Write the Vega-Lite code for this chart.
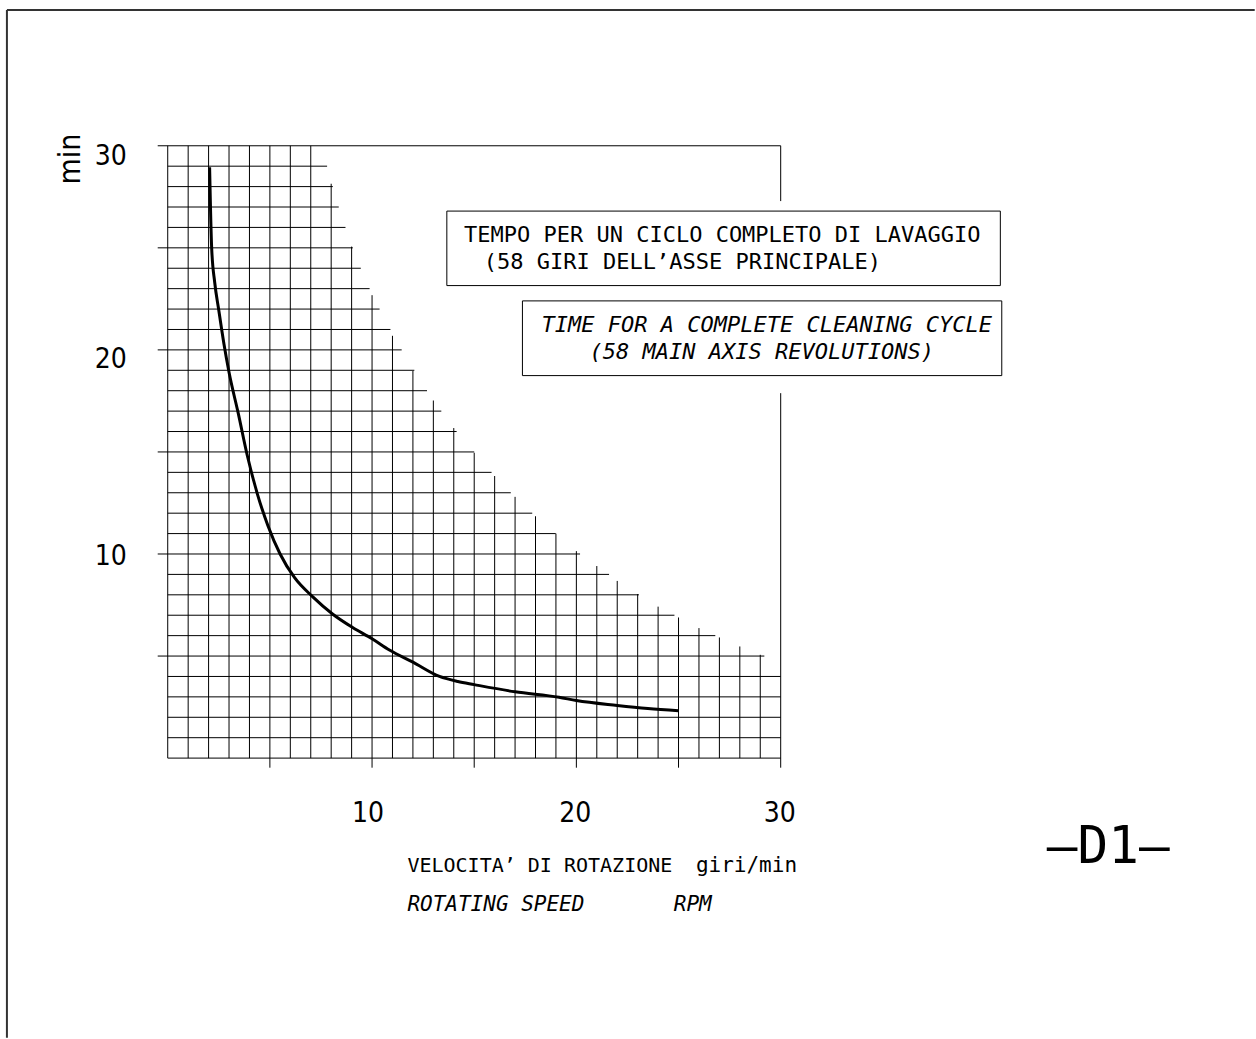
{
  "$schema": "https://vega.github.io/schema/vega-lite/v6.json",
  "width": 1256,
  "height": 1039,
  "padding": 0,
  "autosize": {"type": "fit", "contains": "padding"},
  "background": "white",
  "config": {"view": {"stroke": null}},
  "layer": [
    {
      "data": {"values": [
        {"x": -7.87, "x2": -7.87, "y": -13.7, "y2": 36.65},
        {"x": -7.87, "x2": 53.2, "y": 36.65, "y2": 36.65}
      ]},
      "mark": {"type": "rule", "color": "#333333", "strokeWidth": 2},
      "encoding": {
        "x": {"field": "x", "type": "quantitative", "scale": {"domain": [-8.209, 53.165], "nice": false, "zero": false}, "axis": null},
        "x2": {"field": "x2"},
        "y": {"field": "y", "type": "quantitative", "scale": {"domain": [-13.615, 37.142], "nice": false, "zero": false}, "axis": null},
        "y2": {"field": "y2"}
      }
    },
    {
      "data": {"values": [
        {"v": 0, "lo": 0, "hi": 30}, {"v": 1, "lo": 0, "hi": 30}, {"v": 2, "lo": 0, "hi": 30}, {"v": 3, "lo": 0, "hi": 30},
        {"v": 4, "lo": 0, "hi": 30}, {"v": 5, "lo": -0.47, "hi": 30}, {"v": 6, "lo": 0, "hi": 30}, {"v": 7, "lo": 0, "hi": 30},
        {"v": 8, "lo": 0, "hi": 28.14}, {"v": 9, "lo": 0, "hi": 25.06}, {"v": 10, "lo": -0.47, "hi": 22.68},
        {"v": 11, "lo": 0, "hi": 20.69}, {"v": 12, "lo": 0, "hi": 18.97}, {"v": 13, "lo": 0, "hi": 17.52},
        {"v": 14, "lo": 0, "hi": 16.17}, {"v": 15, "lo": -0.47, "hi": 14.96}, {"v": 16, "lo": 0, "hi": 13.82},
        {"v": 17, "lo": 0, "hi": 12.8}, {"v": 18, "lo": 0, "hi": 11.85}, {"v": 19, "lo": 0, "hi": 11.0},
        {"v": 20, "lo": -0.47, "hi": 10.14}, {"v": 21, "lo": 0, "hi": 9.41}, {"v": 22, "lo": 0, "hi": 8.68},
        {"v": 23, "lo": 0, "hi": 8.04}, {"v": 24, "lo": 0, "hi": 7.42}, {"v": 25, "lo": -0.47, "hi": 6.89},
        {"v": 26, "lo": 0, "hi": 6.37}, {"v": 27, "lo": 0, "hi": 5.91}, {"v": 28, "lo": 0, "hi": 5.47},
        {"v": 29, "lo": 0, "hi": 5.06}, {"v": 30, "lo": -0.47, "hi": 17.88}, {"v": 30, "lo": 27.29, "hi": 30}
      ]},
      "mark": {"type": "rule", "color": "#000000", "strokeWidth": 1},
      "encoding": {
        "x": {"field": "v", "type": "quantitative", "scale": {"domain": [-8.209, 53.165], "nice": false, "zero": false}, "axis": null},
        "y": {"field": "lo", "type": "quantitative", "scale": {"domain": [-13.615, 37.142], "nice": false, "zero": false}, "axis": null},
        "y2": {"field": "hi"}
      }
    },
    {
      "data": {"values": [
        {"h": 0, "lo": 0, "hi": 30}, {"h": 1, "lo": 0, "hi": 30}, {"h": 2, "lo": 0, "hi": 30}, {"h": 3, "lo": 0, "hi": 30},
        {"h": 4, "lo": 0, "hi": 30}, {"h": 5, "lo": -0.49, "hi": 29.2}, {"h": 6, "lo": 0, "hi": 26.8}, {"h": 7, "lo": 0, "hi": 24.8},
        {"h": 8, "lo": 0, "hi": 23.06}, {"h": 9, "lo": 0, "hi": 21.6}, {"h": 10, "lo": -0.49, "hi": 20.18},
        {"h": 11, "lo": 0, "hi": 18.99}, {"h": 12, "lo": 0, "hi": 17.84}, {"h": 13, "lo": 0, "hi": 16.79},
        {"h": 14, "lo": 0, "hi": 15.85}, {"h": 15, "lo": -0.49, "hi": 15.0}, {"h": 16, "lo": 0, "hi": 14.14},
        {"h": 17, "lo": 0, "hi": 13.39}, {"h": 18, "lo": 0, "hi": 12.69}, {"h": 19, "lo": 0, "hi": 12.07},
        {"h": 20, "lo": -0.49, "hi": 11.45}, {"h": 21, "lo": 0, "hi": 10.9}, {"h": 22, "lo": 0, "hi": 10.37},
        {"h": 23, "lo": 0, "hi": 9.88}, {"h": 24, "lo": 0, "hi": 9.45}, {"h": 25, "lo": -0.49, "hi": 9.06},
        {"h": 26, "lo": 0, "hi": 8.7}, {"h": 27, "lo": 0, "hi": 8.37}, {"h": 28, "lo": 0, "hi": 8.08},
        {"h": 29, "lo": 0, "hi": 7.8}, {"h": 30, "lo": -0.49, "hi": 30}
      ]},
      "mark": {"type": "rule", "color": "#000000", "strokeWidth": 1},
      "encoding": {
        "y": {"field": "h", "type": "quantitative", "scale": {"domain": [-13.615, 37.142], "nice": false, "zero": false}, "axis": null},
        "x": {"field": "lo", "type": "quantitative", "scale": {"domain": [-8.209, 53.165], "nice": false, "zero": false}, "axis": null},
        "x2": {"field": "hi"}
      }
    },
    {
      "data": {"values": [
        {"x0": 13.66, "x1": 40.75, "y0": 23.15, "y1": 26.8},
        {"x0": 17.36, "x1": 40.82, "y0": 18.74, "y1": 22.4}
      ]},
      "mark": {"type": "rect", "fill": null, "fillOpacity": 0, "stroke": "#000000", "strokeWidth": 1},
      "encoding": {
        "x": {"field": "x0", "type": "quantitative", "scale": {"domain": [-8.209, 53.165], "nice": false, "zero": false}, "axis": null},
        "x2": {"field": "x1"},
        "y": {"field": "y0", "type": "quantitative", "scale": {"domain": [-13.615, 37.142], "nice": false, "zero": false}, "axis": null},
        "y2": {"field": "y1"}
      }
    },
    {
      "data": {"values": [
        {"rpm": 2.05, "t": 28.95}, {"rpm": 2.15, "t": 25.0}, {"rpm": 2.3, "t": 23.3}, {"rpm": 2.49, "t": 22.0},
        {"rpm": 2.75, "t": 20.3}, {"rpm": 3.0, "t": 18.9}, {"rpm": 3.45, "t": 16.9}, {"rpm": 3.9, "t": 14.8},
        {"rpm": 4.4, "t": 12.9}, {"rpm": 4.9, "t": 11.4}, {"rpm": 5.5, "t": 10.0}, {"rpm": 6.2, "t": 8.85},
        {"rpm": 7.1, "t": 7.9}, {"rpm": 8.08, "t": 7.05}, {"rpm": 9.05, "t": 6.4}, {"rpm": 10.0, "t": 5.85},
        {"rpm": 10.85, "t": 5.3}, {"rpm": 12.0, "t": 4.7}, {"rpm": 13.3, "t": 4.0}, {"rpm": 14.2, "t": 3.75},
        {"rpm": 15.0, "t": 3.6}, {"rpm": 17.0, "t": 3.25}, {"rpm": 19.15, "t": 2.98}, {"rpm": 20.0, "t": 2.82},
        {"rpm": 22.0, "t": 2.58}, {"rpm": 23.5, "t": 2.43}, {"rpm": 25.0, "t": 2.32}
      ]},
      "mark": {"type": "line", "color": "#000000", "strokeWidth": 3, "interpolate": "monotone"},
      "encoding": {
        "x": {"field": "rpm", "type": "quantitative", "scale": {"domain": [-8.209, 53.165], "nice": false, "zero": false}, "axis": null},
        "y": {"field": "t", "type": "quantitative", "scale": {"domain": [-13.615, 37.142], "nice": false, "zero": false}, "axis": null}
      }
    },
    {
      "data": {"values": [
        {"x": -2.0, "y": 29.47, "label": "30"},
        {"x": -2.0, "y": 19.5, "label": "20"},
        {"x": -2.0, "y": 9.83, "label": "10"}
      ]},
      "mark": {"type": "text", "align": "right", "baseline": "middle", "font": "Liberation Sans Narrow, DejaVu Sans Condensed, Liberation Sans, sans-serif", "fontSize": 28, "color": "#000000"},
      "encoding": {
        "x": {"field": "x", "type": "quantitative", "scale": {"domain": [-8.209, 53.165], "nice": false, "zero": false}, "axis": null},
        "y": {"field": "y", "type": "quantitative", "scale": {"domain": [-13.615, 37.142], "nice": false, "zero": false}, "axis": null},
        "text": {"field": "label"}
      }
    },
    {
      "data": {"values": [
        {"x": 9.8, "y": -2.72, "label": "10"},
        {"x": 19.95, "y": -2.72, "label": "20"},
        {"x": 29.95, "y": -2.72, "label": "30"}
      ]},
      "mark": {"type": "text", "align": "center", "baseline": "middle", "font": "Liberation Sans Narrow, DejaVu Sans Condensed, Liberation Sans, sans-serif", "fontSize": 28, "color": "#000000"},
      "encoding": {
        "x": {"field": "x", "type": "quantitative", "scale": {"domain": [-8.209, 53.165], "nice": false, "zero": false}, "axis": null},
        "y": {"field": "y", "type": "quantitative", "scale": {"domain": [-13.615, 37.142], "nice": false, "zero": false}, "axis": null},
        "text": {"field": "label"}
      }
    },
    {
      "data": {"values": [{"x": -4.3, "y": 29.35, "label": "min"}]},
      "mark": {"type": "text", "align": "center", "baseline": "alphabetic", "angle": 270, "font": "Liberation Sans Narrow, DejaVu Sans Condensed, Liberation Sans, sans-serif", "fontSize": 30, "color": "#000000"},
      "encoding": {
        "x": {"field": "x", "type": "quantitative", "scale": {"domain": [-8.209, 53.165], "nice": false, "zero": false}, "axis": null},
        "y": {"field": "y", "type": "quantitative", "scale": {"domain": [-13.615, 37.142], "nice": false, "zero": false}, "axis": null},
        "text": {"field": "label"}
      }
    },
    {
      "data": {"values": [
        {"x": 27.14, "y": 25.61, "label": "TEMPO PER UN CICLO COMPLETO DI LAVAGGIO"},
        {"x": 25.19, "y": 24.29, "label": "(58 GIRI DELL’ASSE PRINCIPALE)"}
      ]},
      "mark": {"type": "text", "align": "center", "baseline": "middle", "font": "DejaVu Sans Mono, monospace", "fontSize": 22, "color": "#000000"},
      "encoding": {
        "x": {"field": "x", "type": "quantitative", "scale": {"domain": [-8.209, 53.165], "nice": false, "zero": false}, "axis": null},
        "y": {"field": "y", "type": "quantitative", "scale": {"domain": [-13.615, 37.142], "nice": false, "zero": false}, "axis": null},
        "text": {"field": "label"}
      }
    },
    {
      "data": {"values": [
        {"x": 29.32, "y": 21.22, "label": "TIME FOR A COMPLETE CLEANING CYCLE"},
        {"x": 29.07, "y": 19.9, "label": "(58 MAIN AXIS REVOLUTIONS)"}
      ]},
      "mark": {"type": "text", "align": "center", "baseline": "middle", "font": "DejaVu Sans Mono, monospace", "fontStyle": "italic", "fontSize": 22, "color": "#000000"},
      "encoding": {
        "x": {"field": "x", "type": "quantitative", "scale": {"domain": [-8.209, 53.165], "nice": false, "zero": false}, "axis": null},
        "y": {"field": "y", "type": "quantitative", "scale": {"domain": [-13.615, 37.142], "nice": false, "zero": false}, "axis": null},
        "text": {"field": "label"}
      }
    },
    {
      "data": {"values": [
        {"x": 11.73, "y": -5.3, "label": "VELOCITA’ DI ROTAZIONE"}
      ]},
      "mark": {"type": "text", "align": "left", "baseline": "middle", "font": "DejaVu Sans Mono, monospace", "fontSize": 20, "color": "#000000"},
      "encoding": {
        "x": {"field": "x", "type": "quantitative", "scale": {"domain": [-8.209, 53.165], "nice": false, "zero": false}, "axis": null},
        "y": {"field": "y", "type": "quantitative", "scale": {"domain": [-13.615, 37.142], "nice": false, "zero": false}, "axis": null},
        "text": {"field": "label"}
      }
    },
    {
      "data": {"values": [
        {"x": 25.85, "y": -5.3, "label": "giri/min"}
      ]},
      "mark": {"type": "text", "align": "left", "baseline": "middle", "font": "DejaVu Sans Mono, monospace", "fontSize": 21, "color": "#000000"},
      "encoding": {
        "x": {"field": "x", "type": "quantitative", "scale": {"domain": [-8.209, 53.165], "nice": false, "zero": false}, "axis": null},
        "y": {"field": "y", "type": "quantitative", "scale": {"domain": [-13.615, 37.142], "nice": false, "zero": false}, "axis": null},
        "text": {"field": "label"}
      }
    },
    {
      "data": {"values": [
        {"x": 11.73, "y": -7.2, "label": "ROTATING SPEED"},
        {"x": 24.77, "y": -7.2, "label": "RPM"}
      ]},
      "mark": {"type": "text", "align": "left", "baseline": "middle", "font": "DejaVu Sans Mono, monospace", "fontStyle": "italic", "fontSize": 21, "color": "#000000"},
      "encoding": {
        "x": {"field": "x", "type": "quantitative", "scale": {"domain": [-8.209, 53.165], "nice": false, "zero": false}, "axis": null},
        "y": {"field": "y", "type": "quantitative", "scale": {"domain": [-13.615, 37.142], "nice": false, "zero": false}, "axis": null},
        "text": {"field": "label"}
      }
    },
    {
      "data": {"values": [{"x": 46.03, "y": -4.38, "label": "–D1–"}]},
      "mark": {"type": "text", "align": "center", "baseline": "middle", "font": "DejaVu Sans Mono, monospace", "fontSize": 51, "color": "#000000"},
      "encoding": {
        "x": {"field": "x", "type": "quantitative", "scale": {"domain": [-8.209, 53.165], "nice": false, "zero": false}, "axis": null},
        "y": {"field": "y", "type": "quantitative", "scale": {"domain": [-13.615, 37.142], "nice": false, "zero": false}, "axis": null},
        "text": {"field": "label"}
      }
    }
  ]
}
